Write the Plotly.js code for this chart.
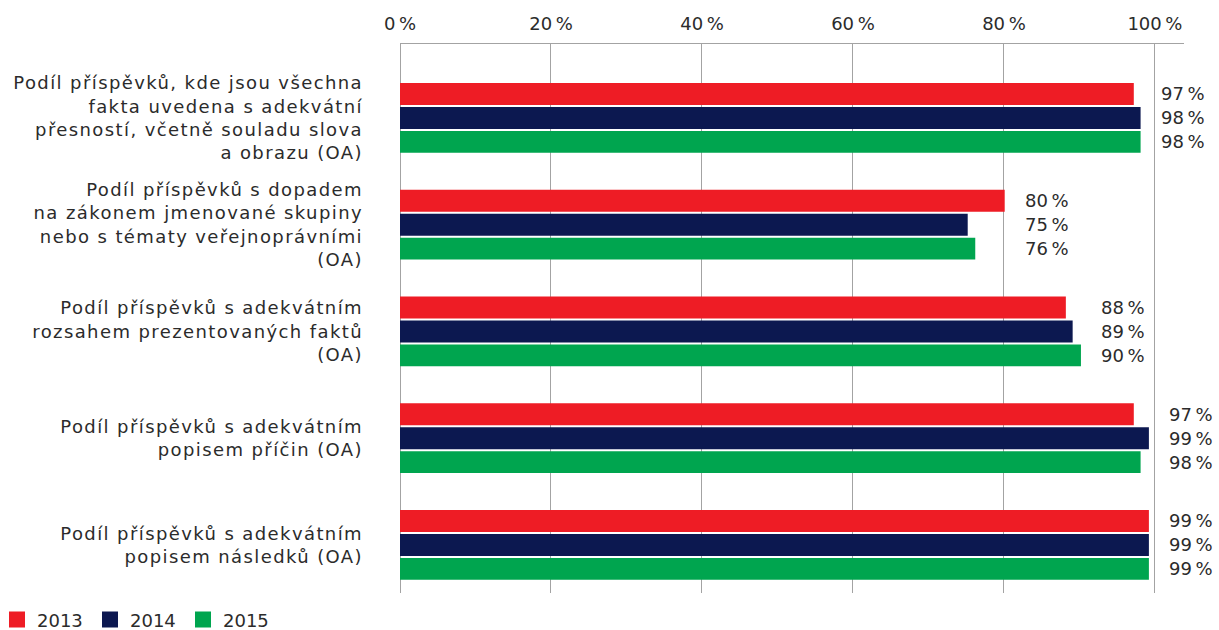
<!DOCTYPE html>
<html>
<head>
<meta charset="utf-8">
<script src="https://cdn.plot.ly/plotly-3.0.1.min.js"></script>
<style>
html,body{margin:0;padding:0;background:#fff;}
#chart{width:1219px;height:630px;}
#chart .ytick text{letter-spacing:1.4px;}
</style>
</head>
<body>
<div id="chart"></div>
<script>
const categories = [
  "Podíl příspěvků, kde jsou všechna<br>fakta uvedena s adekvátní<br>přesností, včetně souladu slova<br>a obrazu (OA)",
  "Podíl příspěvků s dopadem<br>na zákonem jmenované skupiny<br>nebo s tématy veřejnoprávními<br>(OA)",
  "Podíl příspěvků s adekvátním<br>rozsahem prezentovaných faktů<br>(OA)",
  "Podíl příspěvků s adekvátním<br>popisem příčin (OA)",
  "Podíl příspěvků s adekvátním<br>popisem následků (OA)"
];
const years = ["2013", "2014", "2015"];
const values2013 = [97.2, 80.1, 88.2, 97.2, 99.2];
const values2014 = [98.1, 75.2, 89.1, 99.2, 99.2];
const values2015 = [98.1, 76.2, 90.2, 98.1, 99.2];
const tickValues = [0, 20, 40, 60, 80, 100];
const colors = ["#ee1c25", "#0c1850", "#00a54f"];

const series = [values2013, values2014, values2015];
const pos = categories.map((c, i) => i);
const THIN = "\u2009";
const FONT = "DejaVu Sans, sans-serif";
const TXT = "#2b2b2b";
const bargap = 0.326;
const slot = (1 - bargap) / series.length;

const traces = series.map((vals, k) => ({
  type: "bar",
  orientation: "h",
  name: years[k],
  x: vals,
  y: pos,
  marker: {color: colors[k]},
  showlegend: false,
  hoverinfo: "skip"
}));
// legend entries (square swatches)
years.forEach((yr, k) => {
  traces.push({
    type: "scatter", mode: "markers", name: yr,
    x: [null], y: [null],
    marker: {symbol: "square", size: 16, color: colors[k]},
    showlegend: true, hoverinfo: "skip"
  });
});

const annotations = [];
pos.forEach((p, i) => {
  const mx = Math.max(...series.map(s => s[i]));
  series.forEach((vals, k) => {
    annotations.push({
      x: mx + 2.4, y: p + (k - (series.length - 1) / 2) * slot,
      xref: "x", yref: "y",
      text: Math.round(vals[i]) + THIN + "%",
      showarrow: false, xanchor: "left", yanchor: "middle",
      font: {family: FONT, size: 18, color: TXT}
    });
  });
});

const layout = {
  width: 1219, height: 630,
  margin: {l: 400, r: 35, t: 44, b: 37, pad: 0},
  paper_bgcolor: "#fff", plot_bgcolor: "#fff",
  barmode: "group", bargap: bargap, bargroupgap: 0.09,
  font: {family: FONT, size: 18, color: TXT},
  xaxis: {
    side: "top", range: [0, 103.85],
    tickvals: tickValues, ticktext: tickValues.map(v => v + THIN + "%"),
    showgrid: true, gridcolor: "#a3a3a3", gridwidth: 1,
    zeroline: true, zerolinecolor: "#a3a3a3", zerolinewidth: 1,
    showline: true, linecolor: "#a3a3a3", linewidth: 1,
    ticks: "", ticklabelstandoff: 6,
    tickfont: {family: FONT, size: 18, color: TXT},
    fixedrange: true
  },
  yaxis: {
    range: [4.45, -0.693],
    tickvals: pos, ticktext: categories,
    showgrid: false, zeroline: false, showline: false,
    ticks: "", ticklabelstandoff: 36,
    tickfont: {family: FONT, size: 18, color: TXT},
    fixedrange: true
  },
  legend: {
    orientation: "h", xref: "container", yref: "container",
    x: 0, y: 0.016, xanchor: "left", yanchor: "middle",
    indentation: -3,
    font: {family: FONT, size: 18, color: TXT},
    entrywidth: 51, entrywidthmode: "pixels",
    itemsizing: "trace",
    traceorder: "normal"
  },
  showlegend: true,
  annotations: annotations
};

Plotly.newPlot("chart", traces, layout, {displayModeBar: false, staticPlot: true});
</script>
</body>
</html>
